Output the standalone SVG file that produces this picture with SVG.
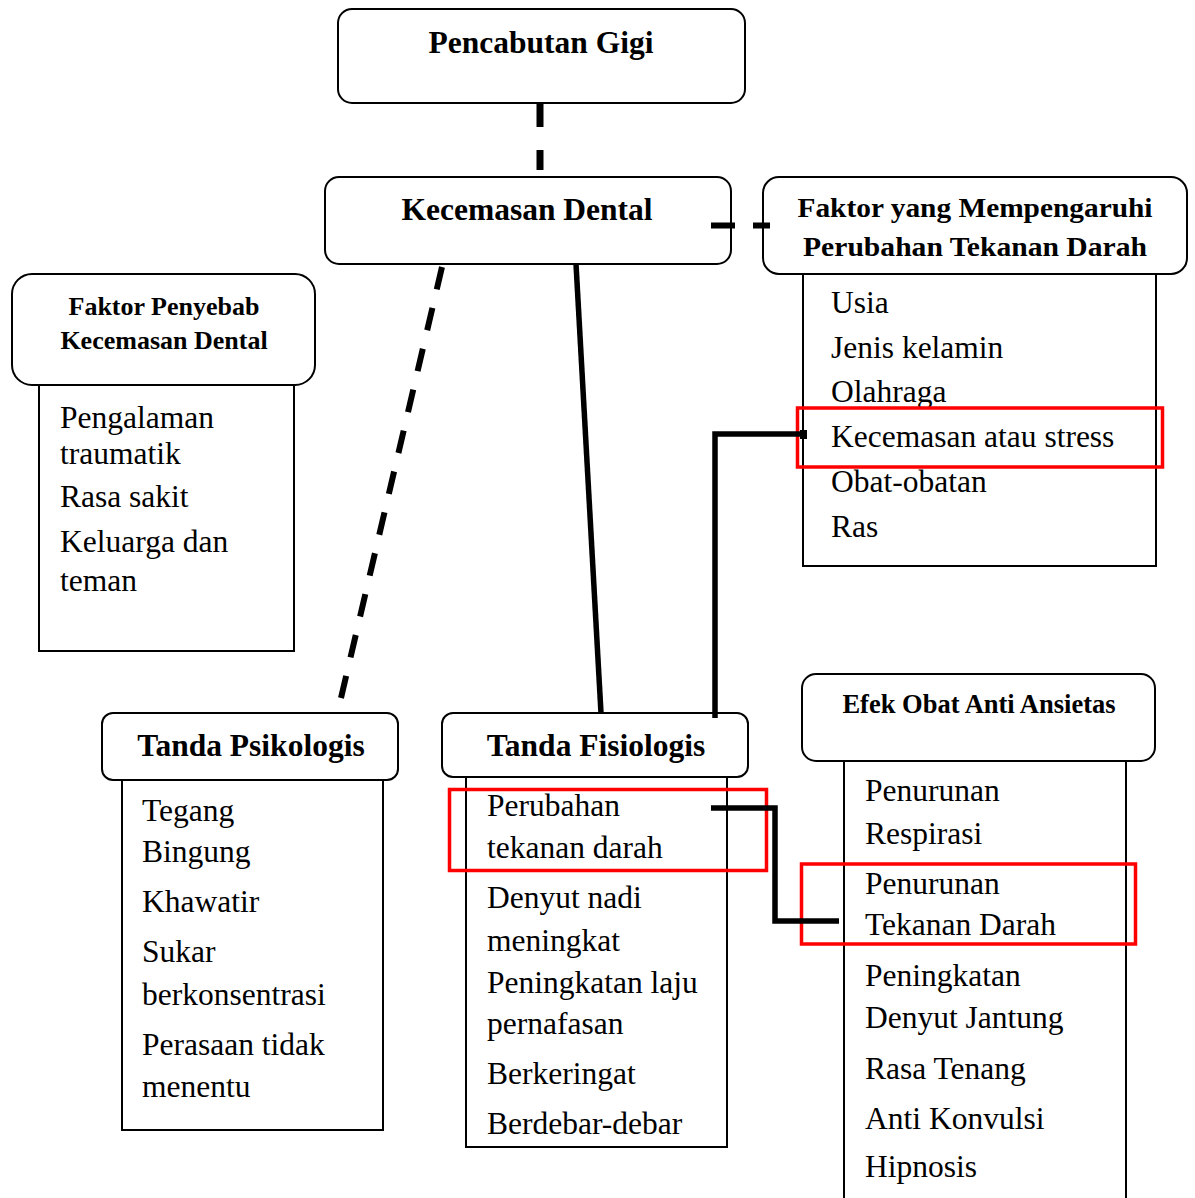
<svg xmlns="http://www.w3.org/2000/svg" width="1195" height="1198" viewBox="0 0 1195 1198">
<style>
.hdr{fill:#fff;stroke:#000;stroke-width:2}
.lst{fill:#fff;stroke:#000;stroke-width:2}
.hl{fill:none;stroke:#f00;stroke-width:3.5}
.ht{font-family:"Liberation Serif","Times New Roman",serif;font-weight:bold;fill:#000;text-anchor:middle}
.it{font-family:"Liberation Serif","Times New Roman",serif;font-size:31.5px;fill:#000}
.c{fill:none;stroke:#000;stroke-width:5.5}
.d{fill:none;stroke:#000;stroke-width:6;stroke-dasharray:23 19}
</style>
<rect width="1195" height="1198" fill="#fff"/>

<g id="pencabutan">
<rect class="hdr" x="338" y="9" width="407" height="94" rx="14"/>
<text class="ht" x="541" y="53" font-size="31.5">Pencabutan Gigi</text>
</g>

<g id="kecemasan">
<rect class="hdr" x="325" y="177" width="406" height="87" rx="14"/>
<text class="ht" x="527" y="220" font-size="31.5">Kecemasan Dental</text>
</g>

<g id="faktor-tekanan">
<rect class="lst" x="803" y="274" width="353" height="292"/>
<rect class="hdr" x="763" y="177" width="424" height="97" rx="16"/>
<text class="ht" x="975" y="217" font-size="28" textLength="355" lengthAdjust="spacingAndGlyphs">Faktor yang Mempengaruhi</text>
<text class="ht" x="975" y="256" font-size="28" textLength="344" lengthAdjust="spacingAndGlyphs">Perubahan Tekanan Darah</text>
<text class="it" x="831" y="313">Usia</text>
<text class="it" x="831" y="358">Jenis kelamin</text>
<text class="it" x="831" y="402">Olahraga</text>
<text class="it" x="831" y="447">Kecemasan atau stress</text>
<text class="it" x="831" y="492">Obat-obatan</text>
<text class="it" x="831" y="537">Ras</text>
<rect class="hl" x="797.5" y="408" width="365" height="59"/>
</g>

<g id="faktor-penyebab">
<rect class="lst" x="39" y="385" width="255" height="266"/>
<rect class="hdr" x="12" y="274" width="303" height="111" rx="20"/>
<text class="ht" x="164" y="315" font-size="26">Faktor Penyebab</text>
<text class="ht" x="164" y="349" font-size="26">Kecemasan Dental</text>
<text class="it" x="60" y="428">Pengalaman</text>
<text class="it" x="60" y="464">traumatik</text>
<text class="it" x="60" y="507">Rasa sakit</text>
<text class="it" x="60" y="552">Keluarga dan</text>
<text class="it" x="60" y="591">teman</text>
</g>

<g id="psikologis">
<rect class="lst" x="122" y="780" width="261" height="350"/>
<rect class="hdr" x="102" y="713" width="296" height="67" rx="11"/>
<text class="ht" x="251" y="756" font-size="31.5">Tanda Psikologis</text>
<text class="it" x="142" y="821">Tegang</text>
<text class="it" x="142" y="862">Bingung</text>
<text class="it" x="142" y="912">Khawatir</text>
<text class="it" x="142" y="962">Sukar</text>
<text class="it" x="142" y="1005">berkonsentrasi</text>
<text class="it" x="142" y="1055">Perasaan tidak</text>
<text class="it" x="142" y="1097">menentu</text>
</g>

<g id="fisiologis">
<rect class="lst" x="466" y="777" width="261" height="370"/>
<rect class="hdr" x="442" y="713" width="306" height="64" rx="11"/>
<text class="ht" x="596" y="756" font-size="31.5">Tanda Fisiologis</text>
<text class="it" x="487" y="816">Perubahan</text>
<text class="it" x="487" y="858">tekanan darah</text>
<text class="it" x="487" y="908">Denyut nadi</text>
<text class="it" x="487" y="951">meningkat</text>
<text class="it" x="487" y="993">Peningkatan laju</text>
<text class="it" x="487" y="1034">pernafasan</text>
<text class="it" x="487" y="1084">Berkeringat</text>
<text class="it" x="487" y="1134">Berdebar-debar</text>
<rect class="hl" x="449.5" y="789.5" width="317" height="81"/>
</g>

<g id="efek-obat">
<rect class="lst" x="844" y="761" width="282" height="460"/>
<rect class="hdr" x="802" y="674" width="353" height="87" rx="14"/>
<text class="ht" x="979" y="713" font-size="26.5">Efek Obat Anti Ansietas</text>
<text class="it" x="865" y="801">Penurunan</text>
<text class="it" x="865" y="844">Respirasi</text>
<text class="it" x="865" y="894">Penurunan</text>
<text class="it" x="865" y="935">Tekanan Darah</text>
<text class="it" x="865" y="986">Peningkatan</text>
<text class="it" x="865" y="1028">Denyut Jantung</text>
<text class="it" x="865" y="1079">Rasa Tenang</text>
<text class="it" x="865" y="1129">Anti Konvulsi</text>
<text class="it" x="865" y="1177">Hipnosis</text>
<rect class="hl" x="801.5" y="864" width="334" height="80"/>
</g>

<g id="connectors">
<line class="d" x1="540" y1="104" x2="540" y2="170" style="stroke-dasharray:23 23;stroke-width:7"/>
<line class="d" x1="711" y1="225.5" x2="770" y2="225.5" style="stroke-dasharray:24 18"/>
<line class="d" x1="442" y1="267" x2="341" y2="698"/>
<line class="c" x1="576" y1="264" x2="601" y2="713"/>
<polyline class="c" points="715,718 715,434 806,434"/>
<rect x="800" y="430" width="7" height="9" fill="#000"/>
<polyline class="c" points="711,808 775,808 775,921 839,921"/>
</g>
</svg>
